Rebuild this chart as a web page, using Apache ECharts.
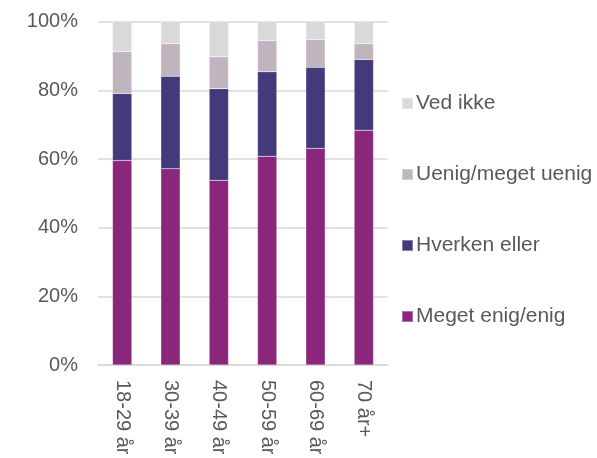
<!DOCTYPE html>
<html><head><meta charset="utf-8">
<script src="https://cdn.jsdelivr.net/npm/echarts@6/dist/echarts.min.js"></script>
<style>html,body{margin:0;padding:0;background:#fff}#c{width:597px;height:458px}</style>
</head><body><div id="c"></div>
<script>
const categories = ['18-29 år','30-39 år','40-49 år','50-59 år','60-69 år','70 år+'];
const megetEnig = [59.6, 57.2, 53.8, 60.8, 63.1, 68.4];
const hverken = [19.5, 26.9, 26.7, 24.6, 23.6, 20.6];
const uenig = [12.2, 9.5, 9.3, 9.1, 8.1, 4.6];
const vedIkke = [8.7, 6.4, 10.2, 5.5, 5.2, 6.4];
const yTicks = [0, 20, 40, 60, 80, 100];

const font = '"Liberation Sans", Arial, sans-serif';
const txt = '#595959';
function s(name, data, color){
  return {name, type:'bar', stack:'a', data, barCategoryGap:'60%',
    itemStyle:{color, borderColor:'rgba(255,255,255,0.35)', borderWidth:0.5}};
}
const chart = echarts.init(document.getElementById('c'));
chart.setOption({
  animation:false,
  grid:{left:98, right:209, top:21.7, bottom:93},
  legend:{orient:'vertical', left:401, top:93, padding:0, itemWidth:11, itemHeight:11, itemGap:50,
    icon:'rect', data:['Ved ikke','Uenig/meget uenig','Hverken eller','Meget enig/enig'],
    textStyle:{fontFamily:font, fontSize:21, color:txt, padding:[0,0,0,-2]}},
  xAxis:{type:'category', data:categories,
    axisLine:{lineStyle:{color:'#d9d9d9', width:1.5}}, axisTick:{show:false},
    axisLabel:{rotate:-90, margin:15, fontFamily:font, fontSize:20, color:txt, align:'left'}},
  yAxis:{type:'value', min:0, max:100, interval:20,
    axisLabel:{formatter:v=> yTicks.includes(v)? v+'%':'', margin:20, fontFamily:font, fontSize:20, color:txt},
    axisLine:{show:false}, axisTick:{show:false},
    splitLine:{lineStyle:{color:'#d9d9d9', width:1.5}}},
  series:[
    s('Meget enig/enig', megetEnig, '#8B267D'),
    s('Hverken eller', hverken, '#433A7C'),
    s('Uenig/meget uenig', uenig, '#C0B4BE'),
    s('Ved ikke', vedIkke, '#D9D9D9')
  ]
});
</script></body></html>
